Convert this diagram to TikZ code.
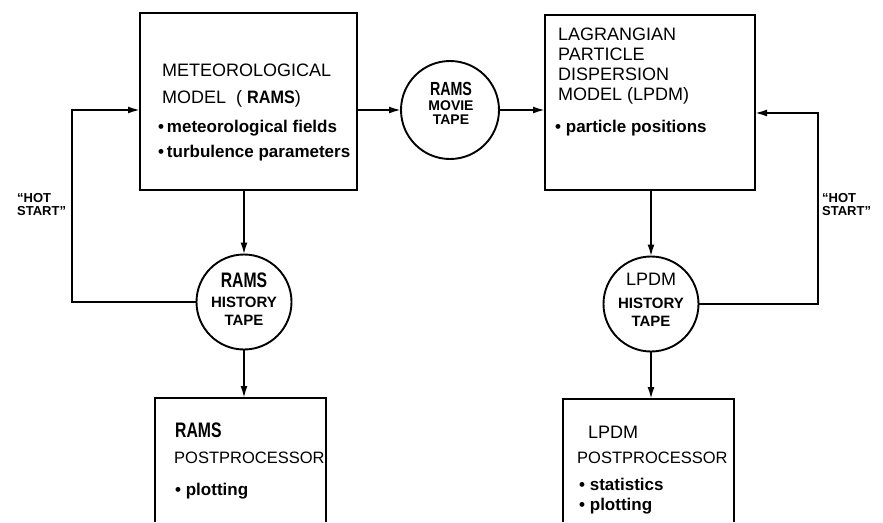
\documentclass[tikz,border=0pt]{standalone}
\usepackage{fontspec}
\setmainfont{Liberation Sans}
\usetikzlibrary{arrows.meta}
\newcommand\ramsbold[2][0.75]{\scalebox{#1}[1]{\bfseries #2}}
\tikzset{
  ln/.style={line width=1.9pt},
  arr/.style={ln,-{Latex[length=12pt,width=7pt]}},
  boxnode/.style={draw, ln, rectangle, inner sep=0pt, outer sep=0pt},
  framenode/.style={rectangle, inner sep=0pt, outer sep=0pt},
  tape/.style={draw, ln, circle, inner sep=0pt, outer sep=0pt},
  txt/.style={inner sep=0pt, anchor=base west, font=\fontsize{18}{20}\selectfont},
  btxt/.style={inner sep=0pt, anchor=base west, font=\fontsize{17}{20}\selectfont\bfseries},
  ctxt/.style={inner sep=0pt, anchor=base, font=\fontsize{15}{16}\selectfont\bfseries},
  hot/.style={inner sep=0pt, anchor=base west, font=\fontsize{13}{14}\selectfont\bfseries},
}
\begin{document}
\begin{tikzpicture}[x=1pt,y=-1pt]
\useasboundingbox (0,0) rectangle (883,522);
% boxes
\node[boxnode, minimum width=217pt, minimum height=177pt] (met) at (248.5,101.5) {};
\node[boxnode, minimum width=210pt, minimum height=175pt] (lp) at (650,102.5) {};
\node[framenode, minimum width=171pt, minimum height=124pt] (rp) at (240.5,460) {};
\node[framenode, minimum width=171pt, minimum height=123pt] (lpp) at (648.5,460.5) {};
\draw[ln] (rp.south west) -- (rp.north west) -- (rp.north east) -- (rp.south east);
\draw[ln] (lpp.south west) -- (lpp.north west) -- (lpp.north east) -- (lpp.south east);
% tapes
\node[tape, minimum size=98pt] (mv) at (450,110) {};
\node[tape, minimum size=95pt] (rh) at (244,302) {};
\node[tape, minimum size=95pt] (lh) at (651,304) {};
% coordinates for hot start loops
\coordinate (hsl) at (72,110);
\coordinate (hsr) at (818,113);
% connectors
\draw[arr] (met.east |- mv.west) -- (mv.west);
\draw[arr] (mv.east) -- (lp.west |- mv.east);
\draw[arr] (rh.north |- met.south) -- (rh.north);
\draw[arr] (lh.north |- lp.south) -- (lh.north);
\draw[arr] (rh.south) -- (rh.south |- rp.north);
\draw[arr] (lh.south) -- (lh.south |- lpp.north);
\draw[arr] (rh.west) -| (hsl) -- (hsl -| met.west);
\draw[arr] (lh.east) -| (hsr) -- (hsr -| lp.east);
% RAMS box text
\node[txt] (m1) at (162,76) {METEOROLOGICAL};
\node[txt] (m2) at (162,103) {MODEL\ \ ( \ramsbold[0.9]{RAMS})};
\node[btxt] (m3) at (158,132) {\textbullet\,meteorological fields};
\node[btxt] (m4) at (158,157) {\textbullet\,turbulence parameters};
% LPDM box text
\node[txt] (l1) at (558,40) {LAGRANGIAN};
\node[txt] (l2) at (558,60) {PARTICLE};
\node[txt] (l3) at (558,80) {DISPERSION};
\node[txt] (l4) at (558,100) {MODEL (LPDM)};
\node[btxt] (l5) at (555,132) {\textbullet\ particle positions};
% movie tape
\node[ctxt] (mv1) at (451,95) {\ramsbold{\fontsize{19}{20}\selectfont RAMS}};
\node[ctxt, font=\fontsize{14}{16}\selectfont\bfseries] (mv2) at (451,110) {MOVIE};
\node[ctxt, font=\fontsize{14}{16}\selectfont\bfseries] (mv3) at (451,124) {TAPE};
% RAMS history tape
\node[ctxt] (rh1) at (244,287) {\ramsbold{\fontsize{21}{22}\selectfont RAMS}};
\node[ctxt] (rh2) at (244,307) {HISTORY};
\node[ctxt] (rh3) at (244,325) {TAPE};
% LPDM history tape
\node[ctxt, font=\fontsize{18}{20}\selectfont] (lh1) at (651,285) {LPDM};
\node[ctxt] (lh2) at (651,308) {HISTORY};
\node[ctxt] (lh3) at (651,326) {TAPE};
% RAMS postprocessor
\node[txt] (r1) at (175,437) {\ramsbold{\fontsize{21}{22}\selectfont RAMS}};
\node[txt, font=\fontsize{16.5}{20}\selectfont] (r2) at (174,463) {POSTPROCESSOR};
\node[btxt] (r3) at (175,495) {\textbullet\ plotting};
% LPDM postprocessor
\node[txt] (p1) at (588,438) {LPDM};
\node[txt, font=\fontsize{16.5}{20}\selectfont] (p2) at (577,463) {POSTPROCESSOR};
\node[btxt] (p3) at (579,490) {\textbullet\ statistics};
\node[btxt] (p4) at (579,510) {\textbullet\ plotting};
% hot start labels
\node[hot] (hl1) at (17,202) {“HOT};
\node[hot] (hl2) at (17,215) {START”};
\node[hot] (hr1) at (822,202) {“HOT};
\node[hot] (hr2) at (822,215) {START”};
\end{tikzpicture}
\end{document}
